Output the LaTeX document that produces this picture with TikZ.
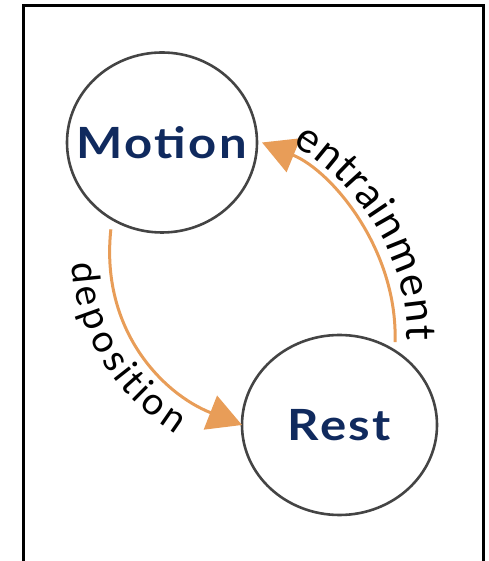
\documentclass[tikz,border=0pt]{standalone}
\usepackage{graphicx}
\usepackage{fontspec}
\setmainfont{Lato}
\usetikzlibrary{arrows.meta,decorations.text,shapes.geometric,calc}
\definecolor{navy}{RGB}{16,42,94}
\definecolor{flowc}{RGB}{232,157,88}
\definecolor{ringc}{RGB}{68,68,68}
% wide bold title; zero width so the ring keeps its own size
\newcommand{\widetitle}[1]{\makebox[0pt]{\scalebox{1.14}[1]{\addfontfeatures{LetterSpace=5}#1}}}
\begin{document}
\begin{tikzpicture}[x=1pt,y=1pt,
  state/.style={draw=ringc, line width=2.6pt, ellipse, minimum width=190pt,
    minimum height=180pt, inner sep=0pt, outer sep=0pt, text=navy,
    font=\fontsize{43}{43}\selectfont\bfseries},
  flow/.style={draw=flowc, line width=3pt, -{Triangle[length=34pt,width=36pt]}},
  labeltext/.style 2 args={decoration={text along path, raise=#1,
    text align={left indent=#2}}, postaction={decorate}}]
  \useasboundingbox (0,0) rectangle (488,561);
  % outer frame, open at the bottom
  \draw[line width=3pt] (23,0) -- (23,555.5) -- (483,555.5) -- (483,0);

  \node[state] (motion) at (162,418.5) {\widetitle{Motion}};
  \node[state, minimum width=195pt] (rest) at (339.5,136) {\widetitle{Rest}};

  % deposition: motion -> rest
  \draw[flow] ([yshift=-11pt]motion.236) .. controls (100,231) and (163,167) .. (rest.180);
  \path[labeltext={-38pt}{30pt}, decoration={text={|\fontsize{38}{38}\selectfont|deposition}}]
    ([yshift=-11pt]motion.236) .. controls (100,231) and (163,167) .. (rest.180);

  % entrainment: rest -> motion
  \draw[flow] ([shift={(4pt,6.5pt)}]rest.56) .. controls (398,311) and (332,390) .. ([xshift=5pt]motion.0);
  \path[labeltext={12pt}{27pt}, decoration={text={|\fontsize{42}{42}\selectfont|entrainment}}]
    ([xshift=5pt]motion.0) .. controls (332,390) and (398,311) .. ([shift={(4pt,6.5pt)}]rest.56)
    -- ++(1,-60);
\end{tikzpicture}
\end{document}
